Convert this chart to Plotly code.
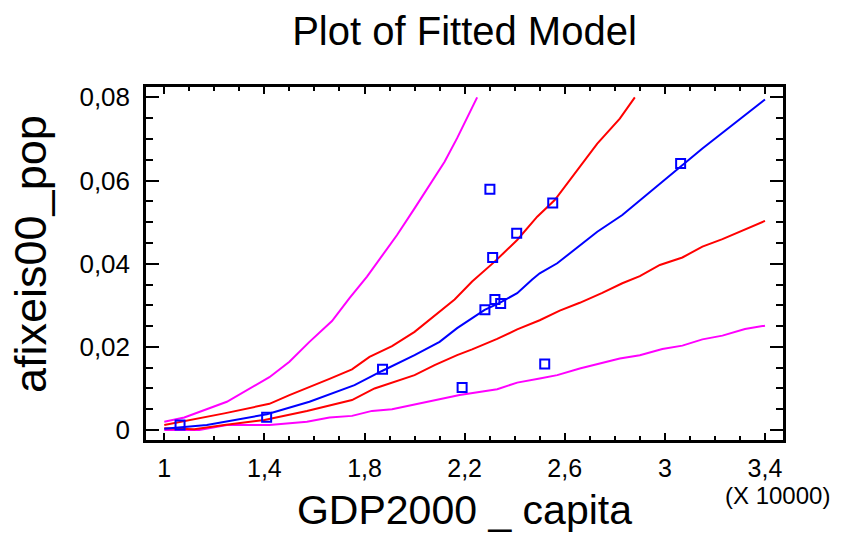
import plotly.graph_objects as go

# x in units of 10000 (GDP2000 per capita), y = afixeis00_pop
obs_x = [1.063, 1.409, 1.872, 2.19, 2.281, 2.321, 2.344, 2.52, 2.312, 2.408, 2.552, 2.301, 3.063]
obs_y = [0.0012, 0.0031, 0.0146, 0.0102, 0.0289, 0.0314, 0.0304, 0.0159, 0.0415, 0.0473, 0.0546, 0.0579, 0.0641]

fit_x = [1.0, 1.17, 1.41, 1.58, 1.76, 1.87, 2.0, 2.10, 2.17, 2.28, 2.34, 2.41, 2.47, 2.50, 2.57, 2.73, 2.83, 2.98, 3.15, 3.40]
fit_y = [0.0003, 0.0012, 0.0038, 0.0068, 0.0108, 0.0142, 0.0180, 0.0212, 0.0245, 0.0289, 0.0306, 0.0329, 0.0362, 0.0377, 0.0401, 0.0477, 0.0517, 0.0593, 0.0677, 0.0795]

conf_up_x = [1.0, 1.24, 1.42, 1.50, 1.66, 1.75, 1.82, 1.91, 2.0, 2.08, 2.16, 2.23, 2.32, 2.41, 2.49, 2.56, 2.65, 2.73, 2.82, 2.88]
conf_up_y = [0.0012, 0.0040, 0.0063, 0.0084, 0.0123, 0.0146, 0.0176, 0.0202, 0.0236, 0.0274, 0.0314, 0.0357, 0.0405, 0.0457, 0.0513, 0.0553, 0.0625, 0.0689, 0.0749, 0.0800]

conf_lo_x = [1.0, 1.12, 1.24, 1.40, 1.57, 1.75, 1.84, 2.0, 2.08, 2.17, 2.23, 2.33, 2.41, 2.50, 2.58, 2.66, 2.75, 2.83, 2.90, 2.98, 3.07, 3.15, 3.23, 3.40]
conf_lo_y = [0.0004, 0.0002, 0.0012, 0.0024, 0.0046, 0.0072, 0.0100, 0.0132, 0.0156, 0.0180, 0.0194, 0.0219, 0.0242, 0.0264, 0.0287, 0.0306, 0.0330, 0.0353, 0.0370, 0.0397, 0.0415, 0.0441, 0.0459, 0.0503]

pred_up_x = [1.0, 1.08, 1.25, 1.42, 1.50, 1.58, 1.67, 1.74, 1.81, 1.93, 2.0, 2.12, 2.17, 2.25]
pred_up_y = [0.0020, 0.0030, 0.0068, 0.0127, 0.0164, 0.0212, 0.0262, 0.0317, 0.0369, 0.0469, 0.0533, 0.0645, 0.0702, 0.0800]

pred_lo_x = [1.0, 1.14, 1.25, 1.42, 1.57, 1.66, 1.75, 1.83, 1.91, 2.06, 2.18, 2.33, 2.41, 2.50, 2.57, 2.66, 2.74, 2.82, 2.90, 2.99, 3.07, 3.15, 3.23, 3.32, 3.40]
pred_lo_y = [0.0000, 0.0000, 0.0012, 0.0012, 0.0020, 0.0030, 0.0034, 0.0046, 0.0050, 0.0068, 0.0084, 0.0098, 0.0114, 0.0124, 0.0132, 0.0148, 0.0160, 0.0172, 0.0180, 0.0195, 0.0203, 0.0218, 0.0227, 0.0243, 0.0251]

FONT = "Liberation Sans, Arial, sans-serif"
MAGENTA = "#FF00FF"
RED = "#FF0000"
BLUE = "#0000FF"

fig = go.Figure()
for xs, ys, col in [(pred_up_x, pred_up_y, MAGENTA), (pred_lo_x, pred_lo_y, MAGENTA),
                    (conf_up_x, conf_up_y, RED), (conf_lo_x, conf_lo_y, RED),
                    (fit_x, fit_y, BLUE)]:
    fig.add_trace(go.Scatter(x=xs, y=ys, mode="lines", line=dict(color=col, width=2),
                             showlegend=False, hoverinfo="skip"))
fig.add_trace(go.Scatter(x=obs_x, y=obs_y, mode="markers", showlegend=False,
                         marker=dict(symbol="square-open", size=9, color=BLUE,
                                     line=dict(color=BLUE, width=2))))

fig.update_layout(
    width=845, height=537,
    margin=dict(l=146, r=62, t=87, b=97),
    paper_bgcolor="white", plot_bgcolor="white",
    separators=", ",
    font=dict(family=FONT, color="black"),
    title=dict(text="Plot of Fitted Model", x=0.5, xref="paper", xanchor="center",
               y=1 - 31 / 537, yref="container", yanchor="middle",
               font=dict(size=40, family=FONT, color="black")),
)
fig.update_xaxes(
    range=[0.927, 3.472], tick0=1, dtick=0.4, showgrid=False, zeroline=False,
    showline=True, linecolor="black", linewidth=2.5, mirror="allticks",
    ticks="inside", ticklen=7, tickwidth=2, tickcolor="black",
    minor=dict(dtick=0.1, tick0=1, ticks="inside", ticklen=4, tickwidth=2, tickcolor="black", showgrid=False),
    tickfont=dict(size=25, family=FONT, color="black"), ticklabelstandoff=4,
    title=dict(text="GDP2000 _ capita", font=dict(size=41, family=FONT, color="black"), standoff=15),
)
fig.update_yaxes(
    range=[-0.0024, 0.0825], tick0=0, dtick=0.02, showgrid=False, zeroline=False,
    showline=True, linecolor="black", linewidth=2.5, mirror="allticks",
    ticks="inside", ticklen=13, tickwidth=2, tickcolor="black",
    minor=dict(dtick=0.005, tick0=0, ticks="inside", ticklen=7, tickwidth=2, tickcolor="black", showgrid=False),
    tickfont=dict(size=26, family=FONT, color="black"), ticklabelstandoff=8,
)
fig.add_annotation(text="afixeis00_pop", textangle=-90, xref="paper", yref="paper",
                   x=(30 - 146) / 637, y=(440 - 254) / 353, xanchor="center", yanchor="middle",
                   showarrow=False, font=dict(size=45, family=FONT, color="black"))
fig.add_annotation(text="(X 10000)", xref="paper", yref="paper", x=0.992, y=(440 - 496) / 353,
                   xanchor="center", yanchor="middle", showarrow=False,
                   font=dict(size=24, family=FONT, color="black"))

fig.write_html("out.html")
